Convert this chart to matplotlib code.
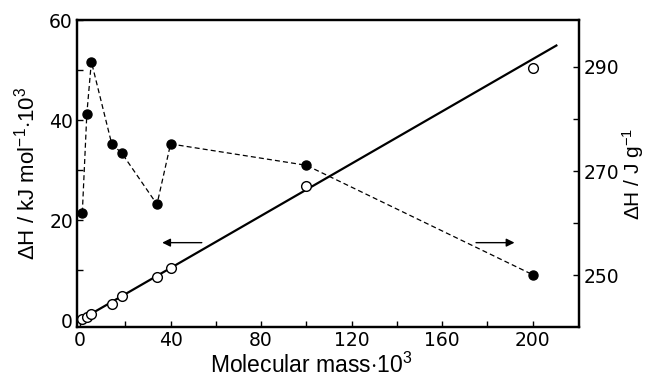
import matplotlib.pyplot as plt

plt.rcParams['mathtext.fontset'] = 'custom'
plt.rcParams['mathtext.rm'] = 'Liberation Sans'
plt.rcParams['mathtext.it'] = 'Liberation Sans:italic'

# molecular mass (x 10^3)
mass = [1, 3, 5, 14, 18.5, 34, 40, 100, 200]
# specific enthalpy, J/g (filled, right axis)
dh_spec = [262, 281, 291, 275.2, 273.4, 263.6, 275.2, 271.1, 250.1]
# molar enthalpy, kJ/mol x 10^3 (open, left axis)
dh_mol = [0.2, 0.7, 1.3, 3.2, 4.8, 8.6, 10.4, 26.9, 50.4]
# fitted straight line
fit_x = [0, 210.5]
fit_y = [0, 54.9]

fig = plt.figure(figsize=(6.48, 3.81), dpi=100)
ax = fig.add_axes([0.119, 0.1425, 0.7745, 0.805])
ax2 = ax.twinx()

ax.plot(fit_x, fit_y, color='black', lw=1.6, zorder=2)
ax.plot(mass, dh_mol, 'o', ms=7, mfc='white', mec='black', mew=1.0, zorder=3)
ax2.plot(mass, dh_spec, '--', color='black', lw=0.9, dashes=(4, 2.5),
         marker='o', ms=6.5, mfc='black', mec='black')

ax.set_xlim(-1.3, 220.5)
ax.set_ylim(-1.3, 60)
ax2.set_ylim(240.1, 299)

ax.set_xticks(range(0, 201, 40))
ax.set_xticks(range(0, 201, 20), minor=True)
ax.set_yticks([0, 20, 40, 60])
ax.set_yticks(range(0, 61, 10), minor=True)
ax2.set_yticks([250, 270, 290])
ax2.set_yticks(range(250, 291, 10), minor=True)

for a in (ax, ax2):
    a.tick_params(which='both', direction='in', length=4, width=1.0,
                  top=False, pad=3)
    for s in a.spines.values():
        s.set_linewidth(1.6)
    for lab in a.get_xticklabels() + a.get_yticklabels():
        lab.set_fontfamily('DejaVu Sans')
        lab.set_fontsize(13.5)

ax.set_xlabel('Molecular mass$\\cdot$10$^3$', fontsize=16.5,
              family='Liberation Sans')
ax.xaxis.set_label_coords(0.466, -0.085)
ax.set_ylabel('$\\Delta$H / kJ mol$^{-1}$$\\cdot$10$^3$', fontsize=16,
              family='Liberation Sans', labelpad=7)
ax2.set_ylabel('$\\Delta$H / J g$^{-1}$', fontsize=15,
               family='Liberation Sans', labelpad=1)

arrow = dict(arrowstyle='-|>', color='black', lw=1.0,
             mutation_scale=12, shrinkA=0, shrinkB=0)
ax.annotate('', xy=(36.3, 15.5), xytext=(53.8, 15.5), arrowprops=arrow)
ax.annotate('', xy=(192, 15.5), xytext=(175, 15.5), arrowprops=arrow)

fig.savefig('out.png', dpi=100)
